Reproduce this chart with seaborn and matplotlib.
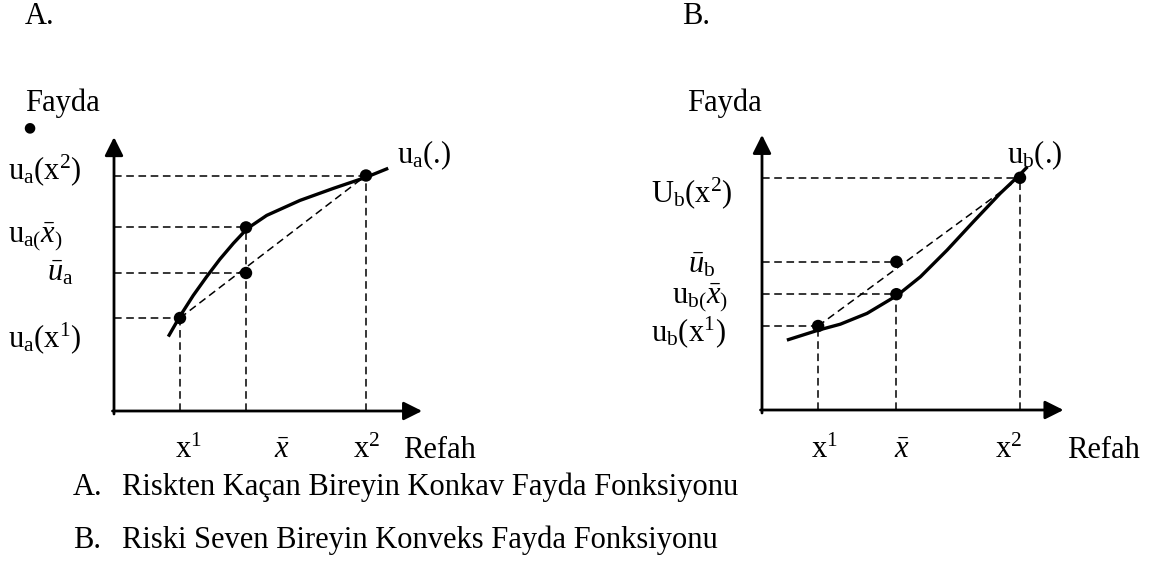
import matplotlib
matplotlib.use("Agg")
import matplotlib.pyplot as plt
import seaborn as sns
import pandas as pd

W, H = 1152, 562  # output size in pixels

# ---------- data (wealth / utility units) ----------
# A: risk averse, concave utility
wealth_a = [2.2, 4.4, 8.4]        # x1, x_bar, x2
util_a = [3.1, 6.12, 7.85]        # u(x1), u(x_bar), u(x2)
ubar_a = 4.6                      # expected utility
curve_a_x = [1.81, 2.2, 2.64, 3.09, 3.53, 3.98, 4.44, 5.09, 6.2, 7.31, 8.4, 9.14]
curve_a_y = [2.48, 3.16, 3.85, 4.48, 5.06, 5.59, 6.08, 6.52, 7.02, 7.42, 7.79, 8.09]

# B: risk lover, convex utility
wealth_b = [1.87, 4.48, 8.6]
util_b = [2.8, 3.86, 7.74]
ubar_b = 4.94
curve_b_x = [0.83, 1.87, 2.61, 3.5, 4.52, 5.28, 6.17, 7.05, 7.94, 8.55, 8.85]
curve_b_y = [2.33, 2.66, 2.86, 3.22, 3.83, 4.44, 5.33, 6.28, 7.22, 7.8, 8.11]

sns.set_theme(style="white")
plt.rcParams['font.family'] = ['Liberation Serif', 'DejaVu Serif']
plt.rcParams['mathtext.fontset'] = 'custom'
plt.rcParams['mathtext.rm'] = 'Liberation Serif'
plt.rcParams['mathtext.it'] = 'Liberation Serif:italic'
plt.rcParams['mathtext.bf'] = 'Liberation Serif:bold'
FS = 22

fig = plt.figure(figsize=(W / 100, H / 100), dpi=100)
fig.patch.set_facecolor('white')


def px(x, y):
    return x / W, 1 - y / H


def panel(ox, oy):
    # axes box: data (-0.5..10.5, -0.5..9.5), 30 px per unit, origin at pixel (ox, oy)
    ax = fig.add_axes([(ox - 15) / W, (H - oy - 15) / H, 330 / W, 300 / H])
    ax.set_xlim(-0.5, 10.5)
    ax.set_ylim(-0.5, 9.5)
    ax.axis('off')
    return ax


def draw(ax, wealth, util, ubar, cx, cy, xmax, ymax):
    arrow = dict(arrowstyle='-|>', lw=2, color='black', mutation_scale=28,
                 shrinkA=0, shrinkB=0)
    ax.annotate('', xy=(xmax, 0), xytext=(-0.05, 0), arrowprops=arrow)
    ax.annotate('', xy=(0, ymax), xytext=(0, -0.1), arrowprops=arrow)

    dash = dict(color='black', lw=1.1, dashes=(5, 3))
    for x, u in zip(wealth, util):
        ax.plot([0, x], [u, u], **dash)
        ax.plot([x, x], [0, u], **dash)
    ax.plot([0, wealth[1]], [ubar, ubar], **dash)
    # chord between the two outcomes
    ax.plot([wealth[0], wealth[2]], [util[0], util[2]], **dash)

    curve = pd.DataFrame({'refah': cx, 'fayda': cy})
    sns.lineplot(data=curve, x='refah', y='fayda', sort=False, color='black',
                 lw=2.4, ax=ax, solid_joinstyle='round', solid_capstyle='butt')

    pts = pd.DataFrame({'refah': wealth + [wealth[1]], 'fayda': util + [ubar]})
    sns.scatterplot(data=pts, x='refah', y='fayda', color='black', s=80,
                    edgecolor='none', ax=ax, zorder=5)
    ax.set_xlabel('')
    ax.set_ylabel('')


ax_a = panel(114, 411)
draw(ax_a, wealth_a, util_a, ubar_a, curve_a_x, curve_a_y, 10.27, 9.13)
ax_b = panel(762, 410)
draw(ax_b, wealth_b, util_b, ubar_b, curve_b_x, curve_b_y, 10.05, 9.17)


def label(x, y, s, va='center', **kw):
    fig.text(*px(x, y), s, fontsize=kw.pop('fontsize', FS), ha=kw.pop('ha', 'left'),
             va=va, color='black', **kw)


# titles
label(25, 24, 'A.', va='baseline')
label(682, 24, 'B.', va='baseline')
label(25, 111, 'Fayda', va='baseline')
label(687, 111, 'Fayda', va='baseline')
label(29, 131, '\u25cf', va='baseline', ha='center', fontsize=10,
      family=['DejaVu Sans'])

# panel A labels
label(8, 170, r'u$_{\rm a}$(x$^{\rm 2}$)')
label(8, 237, r'u$_{\rm a(}\bar{x}_{\rm )}$')
label(47, 273, r'$\bar{u}_{\rm a}$')
label(8, 338, r'u$_{\rm a}$(x$^{\rm 1}$)')
label(397, 155, r'u$_{\rm a}$(.)')
label(175, 458, r'x$^{\rm 1}$', va='baseline')
label(274, 458, r'$\bar{x}$', va='baseline')
label(353, 458, r'x$^{\rm 2}$', va='baseline')
label(403, 458, 'Refah', va='baseline')

# panel B labels
label(651, 193, r'U$_{\rm b}$(x$^{\rm 2}$)')
label(688, 265, r'$\bar{u}_{\rm b}$')
label(672, 298, r'u$_{\rm b(}\bar{x}_{\rm )}$')
label(651, 332, r'u$_{\rm b}$(x$^{\rm 1}$)')
label(1007, 155, r'u$_{\rm b}$(.)')
label(811, 458, r'x$^{\rm 1}$', va='baseline')
label(894, 458, r'$\bar{x}$', va='baseline')
label(995, 458, r'x$^{\rm 2}$', va='baseline')
label(1067, 458, 'Refah', va='baseline')

# captions
label(73, 495, 'A.', va='baseline')
label(122, 495, 'Riskten Kaçan Bireyin Konkav Fayda Fonksiyonu', va='baseline')
label(73, 548, 'B.', va='baseline')
label(122, 548, 'Riski Seven Bireyin Konveks Fayda Fonksiyonu', va='baseline')

fig.savefig('out.png', dpi=100, facecolor='white')
